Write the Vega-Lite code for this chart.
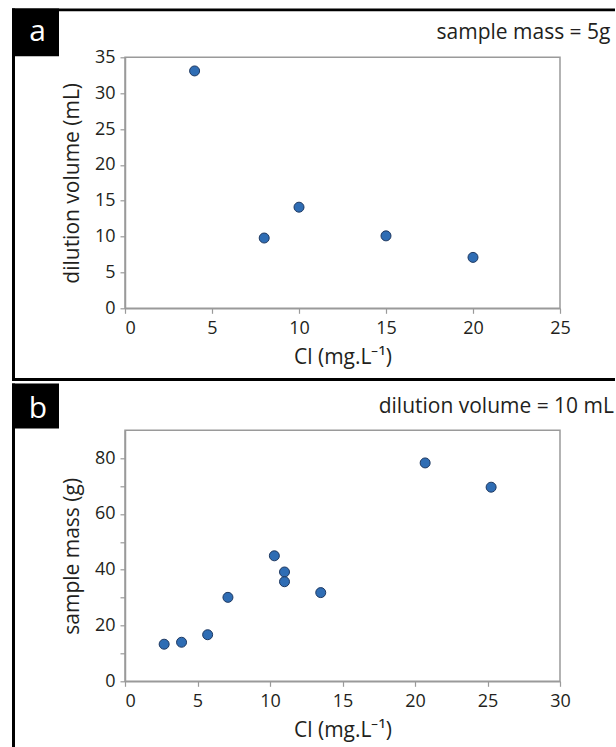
{
  "$schema": "https://vega.github.io/schema/vega-lite/v6.json",
  "background": "white",
  "padding": {"left": 11, "top": 7.3, "right": 0, "bottom": 0},
  "spacing": 0,
  "config": {
    "font": "Open Sans",
    "view": {"stroke": "#9a9a9a", "strokeWidth": 1.5},
    "axis": {
      "grid": false,
      "domainColor": "#9a9a9a",
      "domainWidth": 1.5,
      "tickColor": "#9a9a9a",
      "tickWidth": 1.2,
      "tickSize": 5,
      "labelOverlap": false,
      "labelFlush": false,
      "labelFont": "Open Sans",
      "labelFontSize": 18,
      "labelColor": "#231f20",
      "titleFont": "Open Sans",
      "titleFontSize": 21,
      "titleFontWeight": "normal",
      "titleColor": "#231f20"
    },
    "axisX": {"labelPadding": 6, "titlePadding": 9,
              "labelAlign": {"condition": {"test": "datum.value == 0", "value": "left"}, "value": "center"}},
    "axisY": {"labelPadding": 5, "titlePadding": 12}
  },
  "datasets": {
    "a": [
      {"cl": 4, "vol": 33.1},
      {"cl": 8, "vol": 9.8},
      {"cl": 10, "vol": 14.1},
      {"cl": 15, "vol": 10.1},
      {"cl": 20, "vol": 7.1}
    ],
    "b": [
      {"cl": 2.7, "mass": 13.3},
      {"cl": 3.9, "mass": 14.0},
      {"cl": 5.7, "mass": 16.7},
      {"cl": 7.1, "mass": 30.1},
      {"cl": 10.3, "mass": 45.0},
      {"cl": 11.0, "mass": 39.2},
      {"cl": 11.0, "mass": 35.7},
      {"cl": 13.5, "mass": 31.8},
      {"cl": 20.7, "mass": 78.3},
      {"cl": 25.25, "mass": 69.6}
    ],
    "one": [{}]
  },
  "vconcat": [
    {
      "width": 435,
      "height": 251,
      "layer": [
        {
          "data": {"name": "one"},
          "mark": {"type": "rect", "fill": "black", "clip": false},
          "encoding": {
            "x": {"datum": -6.494, "type": "quantitative", "axis": {"title": "Cl (mg.L⁻¹)", "values": [0, 5, 10, 15, 20, 25]}}, "x2": {"datum": 28.161},
            "y": {"datum": 41.791, "type": "quantitative", "axis": {"title": "dilution volume (mL)", "values": [0, 5, 10, 15, 20, 25, 30, 35]}}, "y2": {"datum": 41.414}
          }
        },
        {
          "data": {"name": "one"},
          "mark": {"type": "rect", "fill": "black", "clip": false},
          "encoding": {
            "x": {"datum": -6.494, "type": "quantitative", "axis": {"title": "Cl (mg.L⁻¹)", "values": [0, 5, 10, 15, 20, 25]}}, "x2": {"datum": -6.322},
            "y": {"datum": 41.791, "type": "quantitative", "axis": {"title": "dilution volume (mL)", "values": [0, 5, 10, 15, 20, 25, 30, 35]}}, "y2": {"datum": -10.151}
          }
        },
        {
          "data": {"name": "one"},
          "mark": {"type": "rect", "fill": "black", "clip": false},
          "encoding": {
            "x": {"datum": -6.494, "type": "quantitative", "axis": {"title": "Cl (mg.L⁻¹)", "values": [0, 5, 10, 15, 20, 25]}}, "x2": {"datum": 28.161},
            "y": {"datum": -9.733, "type": "quantitative", "axis": {"title": "dilution volume (mL)", "values": [0, 5, 10, 15, 20, 25, 30, 35]}}, "y2": {"datum": -10.151}
          }
        },
        {
          "data": {"name": "one"},
          "mark": {"type": "rect", "fill": "black", "clip": false},
          "encoding": {
            "x": {"datum": -6.494, "type": "quantitative", "axis": {"title": "Cl (mg.L⁻¹)", "values": [0, 5, 10, 15, 20, 25]}}, "x2": {"datum": -3.793},
            "y": {"datum": 41.791, "type": "quantitative", "axis": {"title": "dilution volume (mL)", "values": [0, 5, 10, 15, 20, 25, 30, 35]}}, "y2": {"datum": 35.139}
          }
        },
        {
          "data": {"name": "one"},
          "mark": {"type": "text", "text": "a", "font": "Open Sans", "fontSize": 30, "color": "white", "align": "center", "baseline": "alphabetic"},
          "encoding": {
            "x": {"datum": -5.03, "type": "quantitative", "axis": {"title": "Cl (mg.L⁻¹)", "values": [0, 5, 10, 15, 20, 25]}},
            "y": {"datum": 37.23, "type": "quantitative", "axis": {"title": "dilution volume (mL)", "values": [0, 5, 10, 15, 20, 25, 30, 35]}}
          }
        },
        {
          "data": {"name": "one"},
          "mark": {"type": "text", "text": "sample mass = 5g", "font": "Open Sans", "fontSize": 21, "color": "#231f20", "align": "right", "baseline": "alphabetic"},
          "encoding": {
            "x": {"datum": 27.9, "type": "quantitative", "axis": {"title": "Cl (mg.L⁻¹)", "values": [0, 5, 10, 15, 20, 25]}},
            "y": {"datum": 37.61, "type": "quantitative", "axis": {"title": "dilution volume (mL)", "values": [0, 5, 10, 15, 20, 25, 30, 35]}}
          }
        },
        {
          "data": {"name": "a"},
          "mark": {"type": "point", "filled": true, "shape": "circle", "size": 100, "fill": "#2f6db4", "stroke": "#1e3860", "strokeWidth": 1, "opacity": 1},
          "encoding": {
            "x": {"field": "cl", "type": "quantitative", "scale": {"domain": [0, 25], "nice": false},
                  "axis": {"title": "Cl (mg.L⁻¹)", "values": [0, 5, 10, 15, 20, 25]}},
            "y": {"field": "vol", "type": "quantitative", "scale": {"domain": [0, 35], "nice": false},
                  "axis": {"title": "dilution volume (mL)", "values": [0, 5, 10, 15, 20, 25, 30, 35]}}
          }
        }
      ]
    },
    {
      "width": 435,
      "height": 251,
      "layer": [
        {
          "data": {"name": "one"},
          "mark": {"type": "rect", "fill": "black", "clip": false},
          "encoding": {
            "x": {"datum": -7.793, "type": "quantitative", "axis": {"title": "Cl (mg.L⁻¹)", "values": [0, 5, 10, 15, 20, 25, 30]}}, "x2": {"datum": -7.586},
            "y": {"datum": 106.82, "type": "quantitative", "axis": {"title": "sample mass (g)", "values": [0, 10, 20, 30, 40, 50, 60, 70, 80], "labelExpr": "datum.value % 20 == 0 ? datum.label : ''"}}, "y2": {"datum": -24.13}
          }
        },
        {
          "data": {"name": "one"},
          "mark": {"type": "rect", "fill": "black", "clip": false},
          "encoding": {
            "x": {"datum": -7.793, "type": "quantitative", "axis": {"title": "Cl (mg.L⁻¹)", "values": [0, 5, 10, 15, 20, 25, 30]}}, "x2": {"datum": -4.552},
            "y": {"datum": 106.82, "type": "quantitative", "axis": {"title": "sample mass (g)", "values": [0, 10, 20, 30, 40, 50, 60, 70, 80], "labelExpr": "datum.value % 20 == 0 ? datum.label : ''"}}, "y2": {"datum": 90.61}
          }
        },
        {
          "data": {"name": "one"},
          "mark": {"type": "text", "text": "b", "font": "Open Sans", "fontSize": 30, "color": "white", "align": "center", "baseline": "alphabetic"},
          "encoding": {
            "x": {"datum": -6.0, "type": "quantitative", "axis": {"title": "Cl (mg.L⁻¹)", "values": [0, 5, 10, 15, 20, 25, 30]}},
            "y": {"datum": 94.45, "type": "quantitative", "axis": {"title": "sample mass (g)", "values": [0, 10, 20, 30, 40, 50, 60, 70, 80], "labelExpr": "datum.value % 20 == 0 ? datum.label : ''"}}
          }
        },
        {
          "data": {"name": "one"},
          "mark": {"type": "text", "text": "dilution volume = 10 mL", "font": "Open Sans", "fontSize": 21, "color": "#231f20", "align": "right", "baseline": "alphabetic"},
          "encoding": {
            "x": {"datum": 33.72, "type": "quantitative", "axis": {"title": "Cl (mg.L⁻¹)", "values": [0, 5, 10, 15, 20, 25, 30]}},
            "y": {"datum": 96.24, "type": "quantitative", "axis": {"title": "sample mass (g)", "values": [0, 10, 20, 30, 40, 50, 60, 70, 80], "labelExpr": "datum.value % 20 == 0 ? datum.label : ''"}}
          }
        },
        {
          "data": {"name": "b"},
          "mark": {"type": "point", "filled": true, "shape": "circle", "size": 100, "fill": "#2f6db4", "stroke": "#1e3860", "strokeWidth": 1, "opacity": 1},
          "encoding": {
            "x": {"field": "cl", "type": "quantitative", "scale": {"domain": [0, 30], "nice": false},
                  "axis": {"title": "Cl (mg.L⁻¹)", "values": [0, 5, 10, 15, 20, 25, 30]}},
            "y": {"field": "mass", "type": "quantitative", "scale": {"domain": [0, 90], "nice": false},
                  "axis": {"title": "sample mass (g)", "values": [0, 10, 20, 30, 40, 50, 60, 70, 80],
                           "labelExpr": "datum.value % 20 == 0 ? datum.label : ''"}}
          }
        }
      ]
    }
  ]
}
